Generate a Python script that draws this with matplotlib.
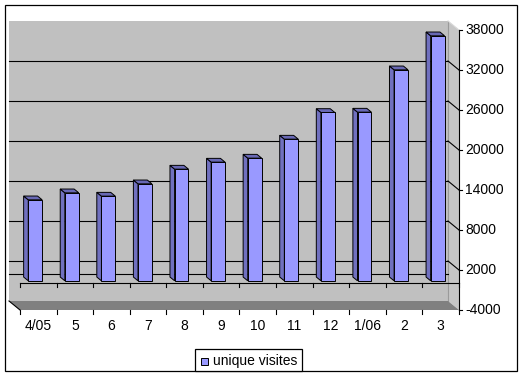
import matplotlib
matplotlib.use('Agg')
import matplotlib.pyplot as plt
from matplotlib.patches import Polygon, Rectangle
from matplotlib.lines import Line2D
import numpy as np

categories = ['4/05', '5', '6', '7', '8', '9', '10', '11', '12', '1/06', '2', '3']
unique_visites = [12150, 13200, 12700, 14550, 16750, 17800, 18400, 21250, 25250, 25300, 31650, 36750]
y_ticks = [-4000, 2000, 8000, 14000, 20000, 26000, 32000, 38000]
series_name = 'unique visites'

plt.rcParams['font.family'] = ['Liberation Sans', 'DejaVu Sans']

W, H = 523, 376
fig = plt.figure(figsize=(W / 100, H / 100), dpi=100)
fig.patch.set_facecolor('white')
ax = fig.add_axes([20 / W, 66 / H, 439 / W, 280 / H])
ax.set_xlim(-0.5, len(categories) - 0.5)
ax.set_ylim(y_ticks[0], y_ticks[-1])
ax.axis('off')

DEPTH = np.array([-11.0, 9.0])
to_fig = fig.transFigure.inverted()


def P(x, y, d=0.0, dx=0.0, dy=0.0):
    p = ax.transData.transform((x, y)) + d * DEPTH + np.array([dx, dy])
    return to_fig.transform(p)


def poly(pts, fc, ec='none', lw=0.7, z=1):
    fig.add_artist(Polygon(pts, closed=True, facecolor=fc, edgecolor=ec,
                           linewidth=lw, transform=fig.transFigure, zorder=z))


def line(a, b, color='black', lw=0.8, z=2):
    fig.add_artist(Line2D([a[0], b[0]], [a[1], b[1]], color=color, linewidth=lw,
                          transform=fig.transFigure, zorder=z))


x0, x1 = -0.5, len(categories) - 0.5
ymin, ymax = y_ticks[0], y_ticks[-1]

# back wall
poly([P(x0, ymin, 1), P(x1, ymin, 1), P(x1, ymax, 1), P(x0, ymax, 1)], '#c0c0c0', z=1)
# side wall
poly([P(x1, ymin, 1), P(x1, ymax, 1), P(x1, ymax, 0), P(x1, ymin, 0)], '#c6c6c6', z=1.5)
line(P(x1, ymin, 1), P(x1, ymax, 1), color='#9a9a9a', lw=0.8, z=1.6)
line(P(x1, ymax, 1), P(x1, ymax, 0), color='#d8d8d8', lw=0.8, z=1.6)
# floor
poly([P(x0, ymin, 1), P(x1, ymin, 1), P(x1, ymin, 0), P(x0, ymin, 0)], '#808080', z=1.7)
line(P(x0, ymin, 1), P(x0, ymin, 0), color='black', lw=0.8, z=1.8)

# gridlines
for v in [0] + y_ticks[1:-1]:
    line(P(x0, v, 1), P(x1, v, 1), lw=0.8, z=2)
for v in y_ticks[1:-1]:
    line(P(x1, v, 1), P(x1, v, 0), lw=0.8, z=2)

# value axis (right, front)
line(P(x1, ymin, 0), P(x1, ymax, 0), lw=0.8, z=3)
for v in y_ticks:
    line(P(x1, v, 0), P(x1, v, 0, dx=3), lw=0.8, z=3)
    fig.text(*P(x1, v, 0, dx=6), f'{v}', ha='left', va='center', fontsize=10,
             color='black', transform=fig.transFigure)

# category axis at 0 and lower ticks
line(P(x0, 0, 0), P(x1, 0, 0), lw=0.8, z=3)
for b in np.arange(x0, x1 + 0.01, 1.0):
    line(P(b, 0, 0), P(b, 0, 0, dy=-4), lw=0.8, z=3)
    line(P(b, ymin, 0), P(b, ymin, 0, dy=-4), lw=0.8, z=3)
for i, c in enumerate(categories):
    fig.text(*P(i, ymin, 0, dy=-16), c, ha='center', va='center', fontsize=10,
             color='black', transform=fig.transFigure)

# bars
hw = 0.19
df, db = 0.28, 0.70
front_c, side_c, top_c = '#9999ff', '#7070bf', '#6868b4'
for i, v in enumerate(unique_visites):
    l, r = i - hw, i + hw
    poly([P(l, 0, df), P(l, v, df), P(l, v, db), P(l, 0, db)], side_c, ec='black', z=4)
    poly([P(l, v, df), P(r, v, df), P(r, v, db), P(l, v, db)], top_c, ec='black', z=4)
    poly([P(l, 0, df), P(r, 0, df), P(r, v, df), P(l, v, df)], front_c, ec='black', z=4.5)

# outer border
fig.add_artist(Rectangle((5 / W, 5 / H), 512 / W, 366 / H, facecolor='none',
                         edgecolor='black', linewidth=0.9, transform=fig.transFigure, zorder=6))

# legend
fig.add_artist(Rectangle((195 / W, 5 / H), 107 / W, 22 / H, facecolor='white',
                         edgecolor='black', linewidth=0.9, transform=fig.transFigure, zorder=7))
fig.add_artist(Rectangle((201 / W, 11.5 / H), 7 / W, 7 / H, facecolor=front_c,
                         edgecolor='black', linewidth=0.7, transform=fig.transFigure, zorder=8))
fig.text(213 / W, 15 / H, series_name, ha='left', va='center', fontsize=10,
         color='black', transform=fig.transFigure, zorder=8)

fig.savefig('out.png', dpi=100)
